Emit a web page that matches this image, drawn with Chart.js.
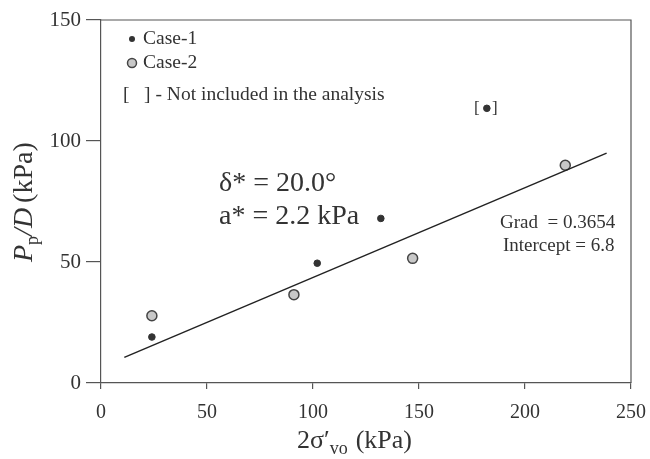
<!DOCTYPE html>
<html>
<head>
  <title>Pp/D vs 2σ'vo</title>
  <style>
    body { margin: 0; background: #fff; }
    #wrap { width: 650px; height: 459px; }
  </style>
</head>
<body>
  <div id="wrap"><canvas id="chart"></canvas></div>

  <script src="https://cdn.jsdelivr.net/npm/chart.js"></script>
  <script>
    // values
    const case1X = [24, 102, 132];
    const case1Y = [19, 49.5, 68];
    const case2X = [24, 91, 147, 219];
    const case2Y = [27.8, 36.5, 51.5, 90];
    const excludedX = [182];
    const excludedY = [113.5];
    const fitX = [11, 238.5];
    const fitY = [10.6, 95];
    const xTicks = [0, 50, 100, 150, 200, 250];
    const yTicks = [0, 50, 100, 150];

    const ink = "#333";
    const axisGrey = "#555";
    const serif = "'Liberation Serif', 'DejaVu Serif', serif";

    const pts = (xs, ys) => xs.map((x, i) => ({ x: x, y: ys[i] }));

    // text, legend, frame and axis titles drawn on top
    const extras = {
      id: "extras",
      afterDraw(chart) {
        const c = chart.ctx;
        const a = chart.chartArea;
        const sx = chart.scales.x, sy = chart.scales.y;
        c.save();

        // top and right frame
        c.strokeStyle = axisGrey;
        c.lineWidth = 1.2;
        c.beginPath();
        c.moveTo(a.left, a.top);
        c.lineTo(a.right, a.top);
        c.lineTo(a.right, a.bottom);
        c.stroke();

        c.fillStyle = ink;
        c.textBaseline = "middle";

        // legend
        c.beginPath();
        c.arc(132, 39, 3, 0, Math.PI * 2);
        c.fill();
        c.beginPath();
        c.arc(132, 63, 4.5, 0, Math.PI * 2);
        c.fillStyle = "#c8c8c8";
        c.fill();
        c.strokeStyle = "#444";
        c.lineWidth = 1.5;
        c.stroke();
        c.fillStyle = ink;
        c.font = "19.5px " + serif;
        c.textAlign = "left";
        c.fillText("Case-1", 143, 39);
        c.fillText("Case-2", 143, 63);
        c.fillText("[   ] - Not included in the analysis", 123, 95);

        // brackets round the excluded point
        const ex = sx.getPixelForValue(excludedX[0]);
        const ey = sy.getPixelForValue(excludedY[0]);
        c.font = "17px " + serif;
        c.textAlign = "center";
        c.fillText("[", ex - 10, ey);
        c.fillText("]", ex + 8, ey);

        // parameters
        c.textAlign = "left";
        c.font = "28px " + serif;
        c.fillText("δ* = 20.0°", 219, 184);
        c.fillText("a* = 2.2 kPa", 219, 217);

        c.font = "19px " + serif;
        c.fillText("Grad  = 0.3654", 500, 223);
        c.fillText("Intercept = 6.8", 503, 246);

        // x title: 2σ'vo (kPa)
        c.font = "26px " + serif;
        let x = 297, y = 441;
        c.fillText("2σ′", x, y);
        x += c.measureText("2σ′").width;
        c.font = "18px " + serif;
        c.fillText("vo", x, y + 8);
        x += c.measureText("vo").width + 8;
        c.font = "26px " + serif;
        c.fillText("(kPa)", x, y);

        // y title: Pp/D (kPa), rotated
        c.translate(25, 262);
        c.rotate(-Math.PI / 2);
        x = 0;
        c.font = "italic 28px " + serif;
        c.fillText("P", x, 0);
        x += c.measureText("P").width;
        c.font = "18px " + serif;
        c.fillText("p", x, 8);
        x += c.measureText("p").width;
        c.font = "italic 28px " + serif;
        c.fillText("/D", x, 0);
        x += c.measureText("/D").width + 5;
        c.font = "28px " + serif;
        c.fillText("(kPa)", x, 0);

        c.restore();
      }
    };

    new Chart(document.getElementById("chart"), {
      type: "scatter",
      data: {
        datasets: [
          {
            label: "Fit",
            type: "line",
            data: pts(fitX, fitY),
            borderColor: "#222",
            borderWidth: 1.5,
            pointRadius: 0,
            fill: false
          },
          {
            label: "Case-1",
            data: pts(case1X, case1Y),
            backgroundColor: "#333",
            borderColor: "#333",
            pointRadius: 3.3
          },
          {
            label: "Excluded",
            data: pts(excludedX, excludedY),
            backgroundColor: "#333",
            borderColor: "#333",
            pointRadius: 3.3
          },
          {
            label: "Case-2",
            data: pts(case2X, case2Y),
            backgroundColor: "#c8c8c8",
            borderColor: "#444",
            borderWidth: 1.5,
            pointRadius: 5
          }
        ]
      },
      options: {
        responsive: true,
        maintainAspectRatio: false,
        animation: false,
        layout: { padding: { top: 20, right: 19, left: 0, bottom: 0 } },
        plugins: {
          legend: { display: false },
          tooltip: { enabled: false }
        },
        scales: {
          x: {
            type: "linear",
            min: 0,
            max: 250,
            afterBuildTicks: (s) => { s.ticks = xTicks.map(v => ({ value: v })); },
            afterFit: (s) => { s.height = 76; s.paddingLeft = 0; s.paddingRight = 0; },
            grid: { drawOnChartArea: false, drawTicks: true, tickLength: 6, color: axisGrey, lineWidth: 1.2 },
            border: { display: true, color: axisGrey, width: 1.2 },
            ticks: { color: ink, font: { family: serif, size: 20 }, padding: 12, maxRotation: 0 }
          },
          y: {
            type: "linear",
            min: 0,
            max: 150,
            afterBuildTicks: (s) => { s.ticks = yTicks.map(v => ({ value: v })); },
            afterFit: (s) => { s.width = 101; s.paddingTop = 0; s.paddingBottom = 0; },
            grid: { drawOnChartArea: false, drawTicks: true, tickLength: 15, color: axisGrey, lineWidth: 1.2 },
            border: { display: true, color: axisGrey, width: 1.2 },
            ticks: { color: ink, font: { family: serif, size: 21 }, padding: 5 }
          }
        }
      },
      plugins: [extras]
    });
  </script>
</body>
</html>
